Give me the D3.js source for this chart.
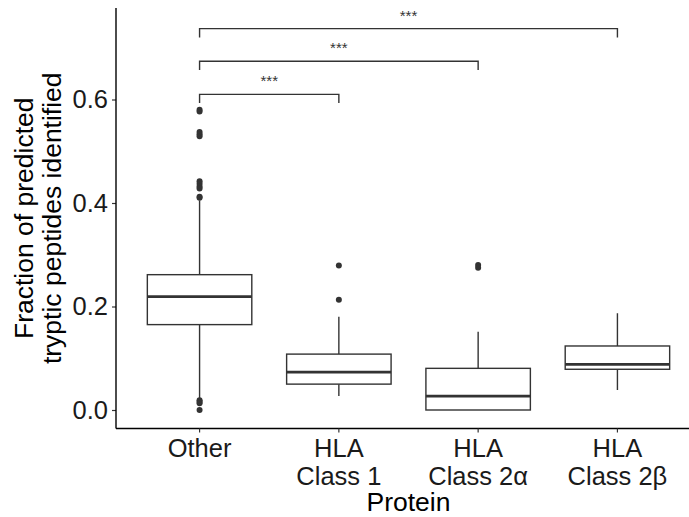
<!DOCTYPE html>
<html>
<head>
<meta charset="utf-8">
<script src="https://cdn.jsdelivr.net/npm/d3@7"></script>
<style>
  html, body { margin: 0; padding: 0; background: #fff; }
  svg { display: block; font-family: "Liberation Sans", Arial, sans-serif; }
</style>
</head>
<body>
<svg id="chart" width="689" height="517"></svg>
<script>
// Box-plot summaries per protein group
const categories = ["Other", "HLA\nClass 1", "HLA\nClass 2\u03b1", "HLA\nClass 2\u03b2"];
const q1 = [0.165, 0.050, 0.000, 0.0787];
const medians = [0.219, 0.073, 0.027, 0.0883];
const q3 = [0.2615, 0.108, 0.0805, 0.1237];
const whiskerLow = [0.022, 0.027, 0.000, 0.0386];
const whiskerHigh = [0.405, 0.180, 0.151, 0.187];
const outliers = [
  [0.580, 0.577, 0.537, 0.533, 0.529, 0.442, 0.437, 0.432, 0.428, 0.412, 0.410, 0.019, 0.016, 0.013, 0.000],
  [0.279, 0.213],
  [0.280, 0.275],
  []
];
// Pairwise significance brackets (group indices, bracket height, label)
const bracketFrom = [0, 0, 0];
const bracketTo = [1, 2, 3];
const bracketY = [0.610, 0.674, 0.737];
const bracketLabel = ["***", "***", "***"];
const yTicks = [0.0, 0.2, 0.4, 0.6];

const svg = d3.select("#chart");
const panel = { left: 116, right: 701, top: 8, bottom: 428.5 };
const axisFont = 25.5;
const titleFont = 26.5;
const lineGap = 28;

// Discrete positions with 0.6-unit expansion on each side
const x = d3.scalePoint()
  .domain(d3.range(categories.length))
  .range([panel.left, panel.right])
  .padding(0.6);
const step = x.step();
const cx = i => x(i);
const boxW = step * 0.75;

const y = d3.scaleLinear().domain([0, 0.6]).range([410, 99.5]);

const ink = "#333333";

// Boxes, whiskers, medians and outliers
const g = svg.append("g");
categories.forEach((c, i) => {
  const xc = cx(i);
  g.append("line").attr("x1", xc).attr("x2", xc)
    .attr("y1", y(q3[i])).attr("y2", y(whiskerHigh[i]))
    .attr("stroke", ink).attr("stroke-width", 1.4);
  g.append("line").attr("x1", xc).attr("x2", xc)
    .attr("y1", y(q1[i])).attr("y2", y(whiskerLow[i]))
    .attr("stroke", ink).attr("stroke-width", 1.4);
  g.append("rect")
    .attr("x", xc - boxW / 2).attr("width", boxW)
    .attr("y", y(q3[i])).attr("height", y(q1[i]) - y(q3[i]))
    .attr("fill", "#fff").attr("stroke", ink).attr("stroke-width", 1.4);
  g.append("line")
    .attr("x1", xc - boxW / 2).attr("x2", xc + boxW / 2)
    .attr("y1", y(medians[i])).attr("y2", y(medians[i]))
    .attr("stroke", ink).attr("stroke-width", 2.8);
  g.selectAll(null).data(outliers[i]).enter().append("circle")
    .attr("cx", xc).attr("cy", d => y(d)).attr("r", 3)
    .attr("fill", ink);
});

// Significance brackets
bracketFrom.forEach((a, k) => {
  const b = bracketTo[k];
  const yy = y(bracketY[k]);
  const tip = y(bracketY[k] - 0.017);
  svg.append("path")
    .attr("d", `M${cx(a)},${tip}V${yy}H${cx(b)}V${tip}`)
    .attr("fill", "none").attr("stroke", ink).attr("stroke-width", 1.4);
  svg.append("text")
    .attr("x", (cx(a) + cx(b)) / 2).attr("y", yy - 8)
    .attr("text-anchor", "middle")
    .attr("font-size", 15).attr("fill", ink)
    .text(bracketLabel[k]);
});

// Y axis
const yAxis = d3.axisLeft(y).tickValues(yTicks).tickFormat(d3.format(".1f")).tickSize(4).tickPadding(4);
const ya = svg.append("g").attr("transform", `translate(${panel.left},0)`).call(yAxis);
ya.select(".domain").remove();
ya.selectAll(".tick line").attr("stroke", "#333").attr("stroke-width", 1.2);
ya.selectAll(".tick text").attr("font-size", axisFont).attr("fill", "#1a1a1a")
  .attr("font-family", "Liberation Sans, Arial, sans-serif");
svg.append("line").attr("x1", panel.left).attr("x2", panel.left)
  .attr("y1", panel.top).attr("y2", panel.bottom)
  .attr("stroke", "#000").attr("stroke-width", 1.4);

// X axis line, ticks and wrapped category labels
svg.append("line").attr("x1", panel.left).attr("x2", panel.right)
  .attr("y1", panel.bottom).attr("y2", panel.bottom)
  .attr("stroke", "#000").attr("stroke-width", 1.4);
categories.forEach((c, i) => {
  svg.append("line").attr("x1", cx(i)).attr("x2", cx(i))
    .attr("y1", panel.bottom).attr("y2", panel.bottom + 4)
    .attr("stroke", "#333").attr("stroke-width", 1.2);
  c.split("\n").forEach((line, j) => {
    svg.append("text")
      .attr("x", cx(i)).attr("y", 457 + j * lineGap)
      .attr("text-anchor", "middle").attr("font-size", axisFont).attr("fill", "#1a1a1a")
      .text(line);
  });
});

// Axis titles
svg.append("text")
  .attr("x", (panel.left + panel.right) / 2).attr("y", 511)
  .attr("text-anchor", "middle").attr("font-size", titleFont).attr("fill", "#000")
  .text("Protein");
["Fraction of predicted", "tryptic peptides identified"].forEach((line, j) => {
  svg.append("text")
    .attr("transform", `translate(${33 + j * lineGap},${(panel.top + panel.bottom) / 2}) rotate(-90)`)
    .attr("text-anchor", "middle").attr("font-size", titleFont).attr("fill", "#000")
    .text(line);
});
</script>
</body>
</html>
